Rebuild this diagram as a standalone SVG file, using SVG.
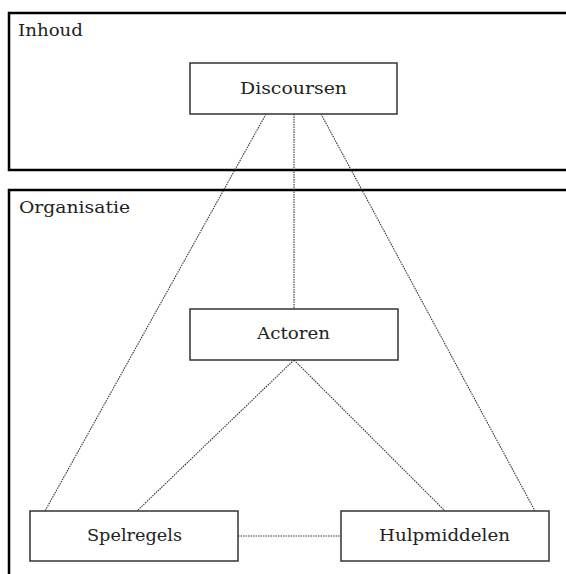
<svg xmlns="http://www.w3.org/2000/svg" width="566" height="574" viewBox="0 0 566 574">
<style>
.frame{fill:none;stroke:#000;stroke-width:2.5}
.box{fill:#fff;stroke:#333;stroke-width:1.5}
.lbl{font-family:"DejaVu Serif","Liberation Serif",serif;font-size:17px;fill:#222}
.c{text-anchor:middle}
.link{stroke:#333;stroke-width:1.1;stroke-dasharray:1.5 1;fill:none}
</style>
<rect width="566" height="574" fill="#fff"/>
<g id="inhoud">
<rect class="frame" x="9" y="13" width="570" height="157"/>
<text class="lbl" x="18" y="36" textLength="65" lengthAdjust="spacingAndGlyphs">Inhoud</text>
</g>
<g id="organisatie">
<rect class="frame" x="9" y="190" width="570" height="400"/>
<text class="lbl" x="19" y="213" textLength="111" lengthAdjust="spacingAndGlyphs">Organisatie</text>
</g>
<g id="connectors">
<line class="link" x1="266" y1="114" x2="45" y2="511"/>
<line class="link" x1="294" y1="114" x2="294" y2="309"/>
<line class="link" x1="321" y1="114" x2="535" y2="511"/>
<line class="link" x1="294" y1="360" x2="137" y2="511"/>
<line class="link" x1="294" y1="360" x2="445" y2="511"/>
<line class="link" x1="238" y1="536" x2="341" y2="536"/>
</g>
<g id="discoursen">
<rect class="box" x="190" y="63" width="207" height="51"/>
<text class="lbl c" x="293.5" y="94" textLength="107" lengthAdjust="spacingAndGlyphs">Discoursen</text>
</g>
<g id="actoren">
<rect class="box" x="190" y="309" width="208" height="51"/>
<text class="lbl c" x="293.5" y="339" textLength="73" lengthAdjust="spacingAndGlyphs">Actoren</text>
</g>
<g id="spelregels">
<rect class="box" x="30" y="511" width="208" height="50"/>
<text class="lbl c" x="134.5" y="541" textLength="95" lengthAdjust="spacingAndGlyphs">Spelregels</text>
</g>
<g id="hulpmiddelen">
<rect class="box" x="341" y="511" width="208" height="50"/>
<text class="lbl c" x="444.5" y="541" textLength="131" lengthAdjust="spacingAndGlyphs">Hulpmiddelen</text>
</g>
</svg>
